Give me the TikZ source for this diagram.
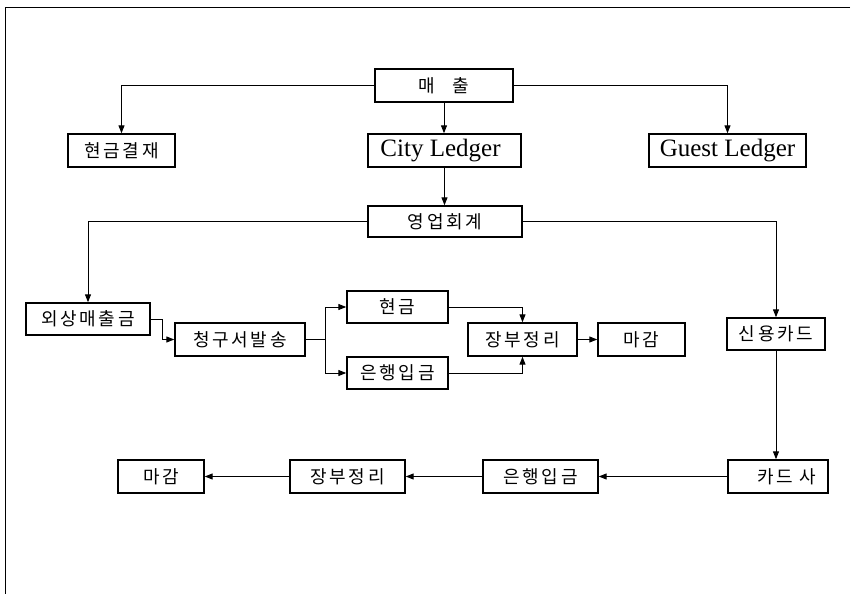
\documentclass[tikz,border=0pt]{standalone}
\usepackage{fontspec}
\setmainfont{Liberation Serif}
\newfontfamily\kr[LetterSpace=15]{Noto Sans CJK KR}
\usetikzlibrary{arrows.meta}
\begin{document}
\begin{tikzpicture}[x=1pt,y=-1pt,
  box/.style={draw, line width=1.4pt, inner sep=0pt, minimum height=33pt,
    font=\kr\fontsize{18}{18}\selectfont, anchor=center},
  lat/.style={font=\fontsize{25}{25}\selectfont},
  conn/.style={line width=1pt, -{Triangle[length=8pt,width=6pt]}},
  plain/.style={line width=1pt}]
\useasboundingbox (0,0) rectangle (857,594);
\draw[line width=1pt] (850,8) -- (5.5,8) -- (5.5,594);

% nodes
\node[box, minimum width=138pt] (maechul) at (444,85.5) {매\hspace{17pt}출};
\node[box, minimum width=107pt] (cashpay) at (121.5,150.5) {현금결재};
\node[box, lat, minimum width=153pt] (city) at (444.5,150.5) {City Ledger\hspace*{8pt}};
\node[box, lat, minimum width=157pt] (guest) at (727.5,150.5) {Guest Ledger};
\node[box, minimum width=154pt, minimum height=31pt] (acct) at (445,221.5) {영업회계};
\node[box, minimum width=124pt, minimum height=32pt] (recv) at (88,319) {외상매출금};
\node[box, minimum width=130pt] (bill) at (240,339.5) {청구서발송};
\node[box, minimum width=101pt, minimum height=32pt] (cash) at (397.5,307) {현금};
\node[box, minimum width=101pt, minimum height=32pt] (bankA) at (397.5,373) {은행입금};
\node[box, minimum width=109pt] (ledgerA) at (522.5,339.5) {장부정리};
\node[box, minimum width=87pt] (closeA) at (641.5,339.5) {마감};
\node[box, minimum width=98pt, minimum height=32pt] (credit) at (776,334) {신용카드};
\node[box, minimum width=100pt] (cardco) at (778,476.5) {\hspace*{18pt}카드 사};
\node[box, minimum width=115pt] (bankB) at (540.5,476.5) {은행입금};
\node[box, minimum width=115pt] (ledgerB) at (347.5,476.5) {장부정리};
\node[box, minimum width=86pt] (closeB) at (161,476.5) {마감};

\coordinate (br) at (325,339.5);

% connectors
\draw[conn] (maechul.west) -| (cashpay.north);
\draw[conn] (maechul.south) -- (city.north -| maechul.south);
\draw[conn] (maechul.east) -| (guest.north);
\draw[conn] (city.south) -- (acct.north -| city.south);
\draw[conn] (acct.west) -| (recv.north);
\draw[conn] (acct.east) -| (credit.north);
\draw[conn] (recv.east) -- ++(12,0) |- (bill.west);
\draw[plain] (bill.east) -- (br);
\draw[conn] (br) |- (cash.west);
\draw[conn] (br) |- (bankA.west);
\draw[conn] (cash.east) -| (ledgerA.north);
\draw[conn] (bankA.east) -| (ledgerA.south);
\draw[conn] (ledgerA.east) -- (closeA.west);
\draw[conn] (credit.south) -- (cardco.north -| credit.south);
\draw[conn] (cardco.west) -- (bankB.east);
\draw[conn] (bankB.west) -- (ledgerB.east);
\draw[conn] (ledgerB.west) -- (closeB.east);
\end{tikzpicture}
\end{document}
